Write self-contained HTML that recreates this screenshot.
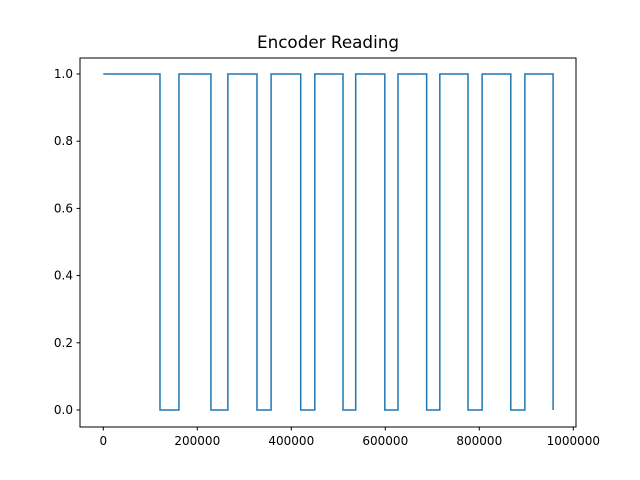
<!DOCTYPE html>
<html><head><meta charset="utf-8"><style>body{margin:0;background:#fff}svg{display:block;font-family:"DejaVu Sans","Liberation Sans",sans-serif}</style></head>
<body>
<svg id="c" width="640" height="480"></svg>
<script>
const stepTimes=[0,120600,161000,229000,265000,327000,357000,420000,450000,510000,537000,599000,627000,688000,716000,776000,806000,867000,897000,957000];
const stepValues=[1,0,1,0,1,0,1,0,1,0,1,0,1,0,1,0,1,0,1,0];
const xTicks=[0,200000,400000,600000,800000,1000000];
const xTickLabels=["0","200000","400000","600000","800000","1000000"];
const yTicks=[0,0.2,0.4,0.6,0.8,1.0];
const yTickLabels=["0.0","0.2","0.4","0.6","0.8","1.0"];
const L=80,R=576,T=58,B=427;
const xs=v=>103.3+v*94/200000;
const ys=v=>410-v*336;
const svg=document.getElementById('c');const NS='http://www.w3.org/2000/svg';
function mk(t,a,txt){const e=document.createElementNS(NS,t);for(const k in a)e.setAttribute(k,a[k]);if(txt!==undefined)e.textContent=txt;svg.appendChild(e);return e;}
let d='';
for(let i=0;i<stepTimes.length;i++){const x=xs(stepTimes[i]),y=ys(stepValues[i]);
 if(i===0)d+=`M${x},${y}`;else d+=`H${x}V${y}`;}
const line=mk('path',{d:d,fill:'none',stroke:'#1f77b4','stroke-width':1.5});


const fr=mk('rect',{x:L,y:T,width:R-L,height:B-T,fill:'none',stroke:'#000','stroke-width':1});


xTicks.forEach((v,i)=>{const x=xs(v);mk('line',{x1:x,x2:x,y1:B,y2:B+3.5,stroke:'#000'});
 const t=mk('text',{x:x,y:B+18,'text-anchor':'middle','font-size':12},xTickLabels[i]);
 
 });
yTicks.forEach((v,i)=>{const y=ys(v);mk('line',{x1:L,x2:L-3.5,y1:y,y2:y,stroke:'#000'});
 const t=mk('text',{x:L-7,y:y+4,'text-anchor':'end','font-size':12},yTickLabels[i]);
 
 });
const ti=mk('text',{x:328,y:48,'text-anchor':'middle','font-size':16.8},'Encoder Reading');


</script>
</body></html>
